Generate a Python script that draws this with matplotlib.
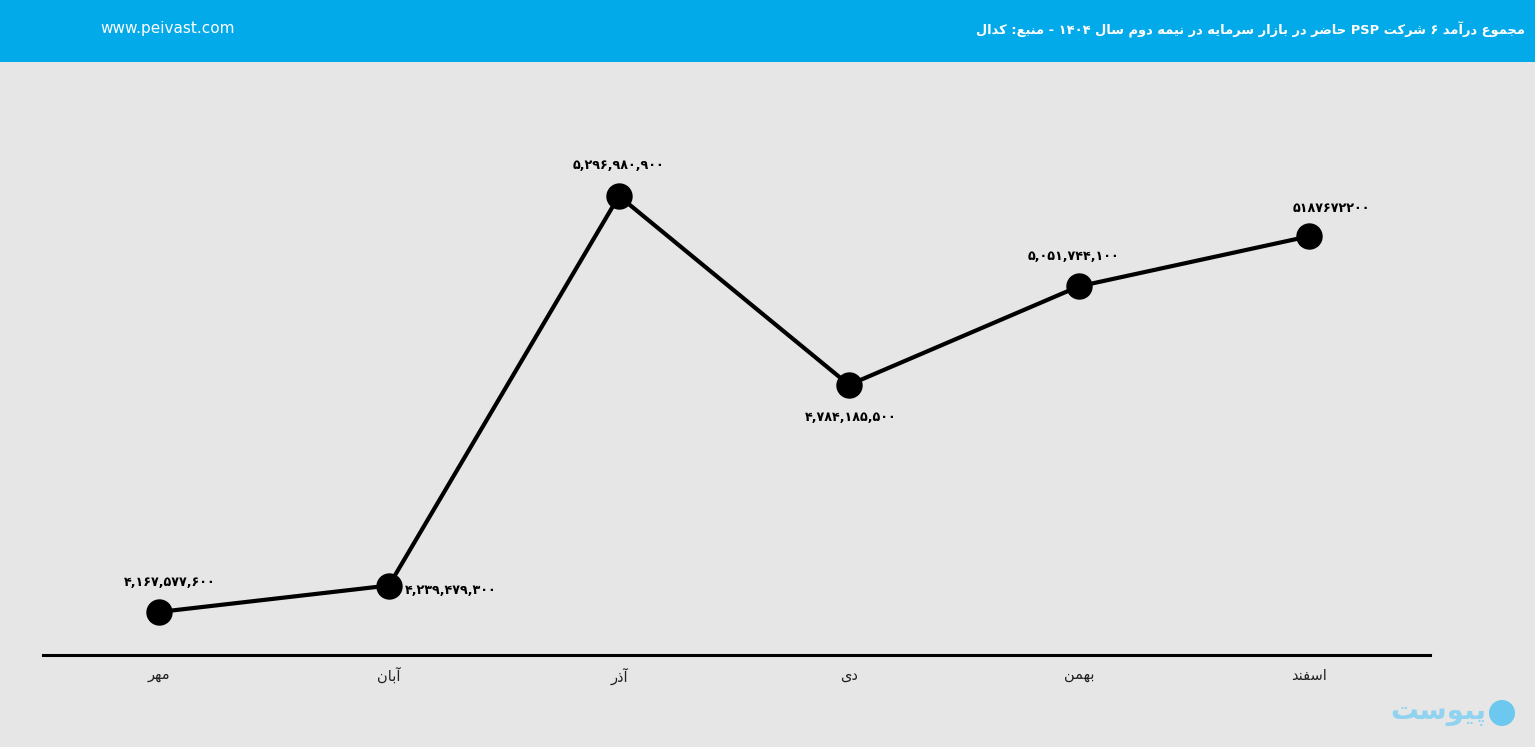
import matplotlib
matplotlib.use("Agg")
import matplotlib.pyplot as plt
from matplotlib.patches import Rectangle, Ellipse

# --- data ---
months = ["مهر", "آبان", "آذر", "دی", "بهمن", "اسفند"]
revenue = [4167577600, 4239479300, 5296980900, 4784185500, 5051744100, 5187672200]
value_labels = ["۴,۱۶۷,۵۷۷,۶۰۰", "۴,۲۳۹,۴۷۹,۳۰۰", "۵,۲۹۶,۹۸۰,۹۰۰",
                "۴,۷۸۴,۱۸۵,۵۰۰", "۵,۰۵۱,۷۴۴,۱۰۰", "۵۱۸۷۶۷۲۲۰۰"]
title = "مجموع درآمد ۶ شرکت PSP حاضر در بازار سرمایه در نیمه دوم سال ۱۴۰۴ - منبع: کدال"
site = "www.peivast.com"
brand = "پیوست"

# --- minimal arabic/persian shaping (matplotlib has no shaping/bidi) ---
# char: (isolated, final, initial, medial) ; None = does not join forward
FORMS = {
    "ا": (0xFE8D, 0xFE8E, None, None), "آ": (0xFE81, 0xFE82, None, None),
    "ب": (0xFE8F, 0xFE90, 0xFE91, 0xFE92), "پ": (0xFB56, 0xFB57, 0xFB58, 0xFB59),
    "ت": (0xFE95, 0xFE96, 0xFE97, 0xFE98), "ج": (0xFE9D, 0xFE9E, 0xFE9F, 0xFEA0),
    "ح": (0xFEA1, 0xFEA2, 0xFEA3, 0xFEA4), "د": (0xFEA9, 0xFEAA, None, None),
    "ذ": (0xFEAB, 0xFEAC, None, None), "ر": (0xFEAD, 0xFEAE, None, None),
    "ز": (0xFEAF, 0xFEB0, None, None), "س": (0xFEB1, 0xFEB2, 0xFEB3, 0xFEB4),
    "ش": (0xFEB5, 0xFEB6, 0xFEB7, 0xFEB8), "ض": (0xFEBD, 0xFEBE, 0xFEBF, 0xFEC0),
    "ع": (0xFEC9, 0xFECA, 0xFECB, 0xFECC), "ف": (0xFED1, 0xFED2, 0xFED3, 0xFED4),
    "ل": (0xFEDD, 0xFEDE, 0xFEDF, 0xFEE0), "م": (0xFEE1, 0xFEE2, 0xFEE3, 0xFEE4),
    "ن": (0xFEE5, 0xFEE6, 0xFEE7, 0xFEE8), "ه": (0xFEE9, 0xFEEA, 0xFEEB, 0xFEEC),
    "و": (0xFEED, 0xFEEE, None, None), "ک": (0xFB8E, 0xFB8F, 0xFB90, 0xFB91),
    "ی": (0xFBFC, 0xFBFD, 0xFBFE, 0xFBFF),
}


def shape_word(w):
    out = []
    for i, c in enumerate(w):
        if c not in FORMS:
            out.append(c)
            continue
        prev = w[i - 1] if i > 0 else None
        nxt = w[i + 1] if i + 1 < len(w) else None
        f = FORMS[c]
        join_prev = prev in FORMS and FORMS[prev][2] is not None
        join_next = nxt in FORMS and f[2] is not None
        if join_prev and join_next:
            out.append(chr(f[3]))
        elif join_prev:
            out.append(chr(f[1]))
        elif join_next:
            out.append(chr(f[2]))
        else:
            out.append(chr(f[0]))
    return "".join(out)


def fa(text):
    words = []
    for w in text.split(" "):
        if any(c in FORMS for c in w):
            words.append(shape_word(w)[::-1])
        else:
            words.append(w)
    return " ".join(words[::-1])


plt.rcParams["font.family"] = ["DejaVu Sans"]

W, H = 1535, 747
fig = plt.figure(figsize=(W / 100, H / 100), dpi=100)
fig.patch.set_facecolor("#e6e6e6")

# header band
fig.patches.append(Rectangle((0, 1 - 62 / H), 1, 62 / H, transform=fig.transFigure,
                             facecolor="#03aaea", edgecolor="none", zorder=0))
fig.text(1525 / W, 1 - 30 / H, fa(title), color="white", fontsize=9.4,
         fontweight="bold", ha="right", va="center")
fig.text(100 / W, 1 - 29 / H, site, color="white", fontsize=11, ha="left", va="center")

# plot area
ax = fig.add_axes([43 / W, (H - 655) / H, (1430 - 43) / W, (655 - 62) / H])
ax.set_facecolor("none")
x = list(range(len(months)))
ax.plot(x, revenue, color="black", lw=3, marker="o", markersize=18,
        markerfacecolor="black", markeredgecolor="black", zorder=3)
ax.set_xlim(-0.504, 5.526)
ax.set_ylim(4050836400, 5660778600)

offsets = [((8, 21), "center"), ((11.5, -3.6), "left"), ((0, 21.6), "center"),
           ((1.4, -23.8), "center"), ((-4.3, 21.6), "center"), ((16, 20), "center")]
for xi, yi, lab, (off, ha) in zip(x, revenue, value_labels, offsets):
    ax.annotate(lab, (xi, yi), xytext=off, textcoords="offset points",
                ha=ha, va="center", fontsize=9.2, fontweight="bold", color="black")

ax.set_xticks(x)
ax.set_xticklabels([fa(m) for m in months], fontsize=10.5, color="#222222")
ax.tick_params(axis="x", length=0, pad=9)
ax.set_yticks([])
for s in ["top", "left", "right"]:
    ax.spines[s].set_visible(False)
ax.spines["bottom"].set_linewidth(2.2)
ax.spines["bottom"].set_color("black")

# brand mark bottom right
fig.text(1486 / W, 1 - 712 / H, fa(brand), color="#8fd3f0", fontsize=20,
         fontweight="bold", ha="right", va="center")
fig.patches.append(Ellipse((1502 / W, 1 - 713 / H), 26 / W, 26 / H,
                           transform=fig.transFigure,
                           facecolor="#6cc8ee", edgecolor="none"))

fig.savefig("out.png", dpi=100, facecolor=fig.get_facecolor())
